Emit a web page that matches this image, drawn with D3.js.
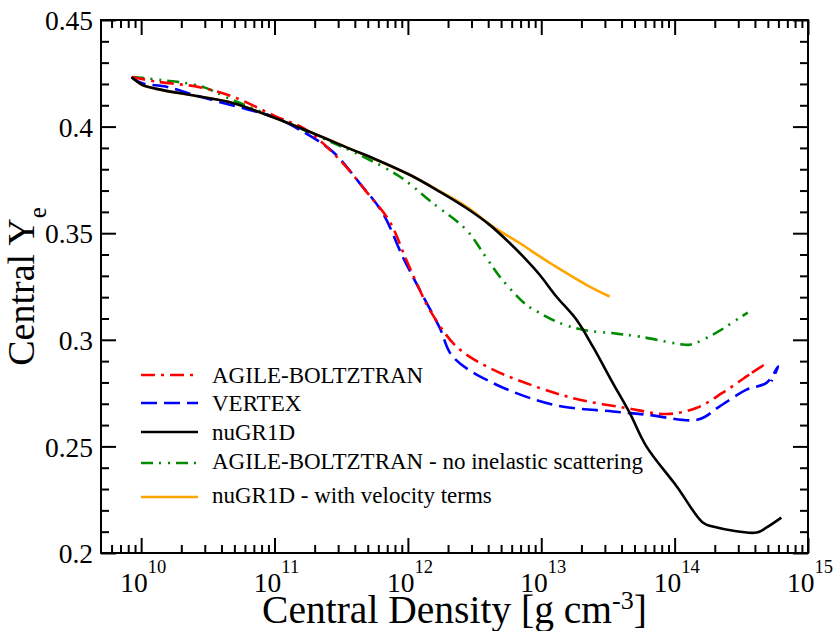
<!DOCTYPE html>
<html>
<head>
<meta charset="utf-8">
<script src="https://cdn.jsdelivr.net/npm/d3@7"></script>
</head>
<body style="margin:0">
<svg id="grafica"></svg>
<script>
const svg_w = 835;
const svg_h = 631;
const margin = {l:101, r:27, t:20, b:78};
const viz_w = svg_w - margin.l - margin.r;
const viz_h = svg_h - margin.t - margin.b;

// densidades centrales como log10(rho), y Ye central
const x_decades = [10, 11, 12, 13, 14, 15];
const y_ticks = [0.2, 0.25, 0.3, 0.35, 0.4, 0.45];

const agile_lgrho = [9.927, 10.115, 10.437, 10.685, 11.013, 11.238, 11.510, 11.688, 11.863, 11.988, 12.088, 12.163, 12.363, 12.613, 12.988, 13.288, 13.638, 13.938, 14.163, 14.361, 14.539, 14.661, 14.501];
const agile_ye    = [0.4233, 0.4211, 0.4185, 0.4141, 0.4047, 0.3985, 0.3830, 0.3695, 0.3555, 0.3375, 0.3235, 0.3141, 0.2969, 0.2868, 0.2774, 0.2719, 0.2680, 0.2652, 0.2680, 0.2752, 0.2828, 0.2879, 0.2813];

const vertex_lgrho = [9.927, 10.01, 10.190, 10.437, 10.812, 11.013, 11.188, 11.435, 11.638, 11.810, 11.960, 12.088, 12.238, 12.335, 12.613, 13.086, 13.536, 13.788, 14.176, 14.338, 14.539, 14.689, 14.776, 14.726];
const vertex_ye    = [0.4233, 0.4203, 0.4187, 0.4141, 0.4078, 0.4041, 0.3985, 0.3883, 0.3735, 0.3596, 0.3391, 0.3235, 0.3057, 0.2922, 0.2805, 0.2696, 0.2664, 0.2649, 0.2626, 0.2688, 0.2766, 0.2798, 0.2875, 0.2805];

const nugr_lgrho = [9.929, 10.01, 10.115, 10.437, 10.685, 10.985, 11.285, 11.585, 11.735, 12.013, 12.238, 12.438, 12.613, 12.763, 12.888, 12.988, 13.113, 13.263, 13.386, 13.536, 13.663, 13.788, 14.016, 14.211, 14.286, 14.616, 14.69, 14.80];
const nugr_ye    = [0.4231, 0.4195, 0.4177, 0.4141, 0.4111, 0.4045, 0.3970, 0.3891, 0.3853, 0.3774, 0.3695, 0.3618, 0.3539, 0.3454, 0.3375, 0.3305, 0.3203, 0.3095, 0.2969, 0.2798, 0.2657, 0.2500, 0.2312, 0.2143, 0.2124, 0.2096, 0.2120, 0.2166];

const noinel_lgrho = [9.935, 10.137, 10.437, 10.685, 10.985, 11.388, 11.638, 11.938, 12.185, 12.438, 12.588, 12.688, 12.888, 12.988, 13.138, 13.311, 13.563, 13.738, 14.038, 14.113, 14.286, 14.489, 14.548];
const noinel_ye    = [0.4233, 0.4219, 0.4191, 0.4125, 0.4047, 0.3938, 0.3867, 0.3766, 0.3642, 0.3516, 0.3385, 0.3297, 0.3164, 0.3126, 0.3079, 0.3047, 0.3029, 0.3015, 0.2980, 0.2977, 0.3024, 0.3104, 0.3127];

const vel_lgrho = [9.929, 10.01, 10.115, 10.437, 10.685, 10.985, 11.285, 11.585, 12.013, 12.238, 12.438, 12.638, 12.838, 12.988, 13.086, 13.338, 13.513];
const vel_ye    = [0.4231, 0.4195, 0.4177, 0.4141, 0.4111, 0.4045, 0.3970, 0.3891, 0.3774, 0.3697, 0.3625, 0.3531, 0.3454, 0.3391, 0.3352, 0.3258, 0.3203];

const series_labels = ["AGILE-BOLTZTRAN", "VERTEX", "nuGR1D", "AGILE-BOLTZTRAN - no inelastic scattering", "nuGR1D - with velocity terms"];

let series = [
  {label: series_labels[0], lg: agile_lgrho, ye: agile_ye, color: "#ff0000", dash: "14,6,3,6"},
  {label: series_labels[1], lg: vertex_lgrho, ye: vertex_ye, color: "#0000ff", dash: "16,7"},
  {label: series_labels[2], lg: nugr_lgrho, ye: nugr_ye, color: "#000000", dash: null},
  {label: series_labels[3], lg: noinel_lgrho, ye: noinel_ye, color: "#008b00", dash: "12,6,2,7,2,6"},
  {label: series_labels[4], lg: vel_lgrho, ye: vel_ye, color: "#ffa500", dash: null}
];

const font_name = "Liberation Serif";

let svg = d3.select("#grafica")
  .attr("width", svg_w)
  .attr("height", svg_h)
  .style("font-family", font_name)

let x_scale = d3.scaleLog()
  .domain([5e9, 1e15])
  .range([0, viz_w])

let y_scale = d3.scaleLinear()
  .domain([0.2, 0.45])
  .range([viz_h, 0])

let major_x = x_decades.map(d => Math.pow(10, d));
let minor_x = [];
for (let d = 9; d < 15; d++) {
  for (let k = 2; k <= 9; k++) {
    let v = k * Math.pow(10, d);
    if (v > 5e9 && v < 1e15) minor_x.push(v);
  }
}
let minor_y = d3.range(21, 45).map(d => d / 100).filter(d => Math.round(d*100) % 5 != 0);

function clean(g) {
  g.attr("font-family", null);
  g.select(".domain").remove();
  g.selectAll("line").attr("stroke", "#000").attr("stroke-width", 2);
}

// ejes con ticks hacia dentro, en los cuatro lados
let bottom = svg.append("g").attr("transform", `translate(${margin.l},${margin.t+viz_h})`);
bottom.append("g").call(d3.axisBottom(x_scale).tickValues(major_x).tickSize(-15).tickFormat("")).call(clean);
bottom.append("g").call(d3.axisBottom(x_scale).tickValues(minor_x).tickSize(-8).tickFormat("")).call(clean);

let top_ax = svg.append("g").attr("transform", `translate(${margin.l},${margin.t})`);
top_ax.append("g").call(d3.axisTop(x_scale).tickValues(major_x).tickSize(-15).tickFormat("")).call(clean);
top_ax.append("g").call(d3.axisTop(x_scale).tickValues(minor_x).tickSize(-8).tickFormat("")).call(clean);

let left = svg.append("g").attr("transform", `translate(${margin.l},${margin.t})`);
left.append("g").call(d3.axisLeft(y_scale).tickValues(y_ticks).tickSize(-15).tickPadding(8).tickFormat(d => String(d)))
  .call(clean)
  .call(g => g.selectAll("text").attr("font-size", 27.5).attr("dy", "0.35em").style("font-family", font_name));
left.append("g").call(d3.axisLeft(y_scale).tickValues(minor_y).tickSize(-8).tickFormat("")).call(clean);

let right = svg.append("g").attr("transform", `translate(${margin.l+viz_w},${margin.t})`);
right.append("g").call(d3.axisRight(y_scale).tickValues(y_ticks).tickSize(-15).tickFormat("")).call(clean);
right.append("g").call(d3.axisRight(y_scale).tickValues(minor_y).tickSize(-8).tickFormat("")).call(clean);

// marco
svg.append("rect")
  .attr("x", margin.l)
  .attr("y", margin.t)
  .attr("width", viz_w)
  .attr("height", viz_h)
  .attr("fill", "none")
  .attr("stroke", "#000")
  .attr("stroke-width", 2)

// etiquetas 10^n
let xlab = svg.append("g")
  .attr("transform", `translate(${margin.l},${margin.t+viz_h})`)
  .selectAll("text")
  .data(x_decades)
  .enter()
  .append("text")
  .attr("x", d => x_scale(Math.pow(10, d)) + 2)
  .attr("y", 39)
  .attr("text-anchor", "middle")
  .attr("font-size", 27.5)
  .style("font-family", font_name)
xlab.append("tspan").text("10")
xlab.append("tspan").attr("dy", -19).attr("font-size", 18.5).text(d => d)

// curvas
let line = d3.line()
  .x(d => x_scale(Math.pow(10, d[0])))
  .y(d => y_scale(d[1]))
  .curve(d3.curveCatmullRom.alpha(0.5))

let plot = svg.append("g").attr("transform", `translate(${margin.l},${margin.t})`);
let draw_order = [4, 3, 1, 0, 2];
draw_order.forEach(i => {
  let s = series[i];
  plot.append("path")
    .datum(s.lg.map((v, j) => [v, s.ye[j]]))
    .attr("d", line)
    .attr("fill", "none")
    .attr("stroke", s.color)
    .attr("stroke-width", 2.6)
    .attr("stroke-dasharray", s.dash)
    .attr("stroke-linejoin", "round")
});

// leyenda
let legend_y = [375, 403, 432, 463, 497];
let legend = svg.append("g")
  .selectAll("g")
  .data(series)
  .enter()
  .append("g")
  .attr("transform", (d, i) => `translate(141,${legend_y[i]})`)
legend.append("line")
  .attr("x1", 0).attr("x2", 57)
  .attr("y1", 0).attr("y2", 0)
  .attr("stroke", d => d.color)
  .attr("stroke-width", 2.6)
  .attr("stroke-dasharray", d => d.dash)
legend.append("text")
  .attr("x", 71)
  .attr("y", (d, i) => i < 3 ? 8 : 6)
  .attr("font-size", 23)
  .style("font-family", font_name)
  .text(d => d.label)

// títulos de ejes
let xt = svg.append("text")
  .attr("x", margin.l + viz_w/2)
  .attr("y", 623)
  .attr("text-anchor", "middle")
  .attr("font-size", 39.5)
  .style("font-family", font_name)
xt.append("tspan").text("Central Density [g cm")
xt.append("tspan").attr("dy", -14).attr("font-size", 26).text("-3")
xt.append("tspan").attr("dy", 14).text("]")

let yt = svg.append("text")
  .attr("transform", `translate(34,${margin.t + viz_h/2}) rotate(-90)`)
  .attr("text-anchor", "middle")
  .attr("font-size", 38)
  .style("font-family", font_name)
yt.append("tspan").text("Central Y")
yt.append("tspan").attr("dy", 12).attr("font-size", 25).text("e")
</script>
</body>
</html>
